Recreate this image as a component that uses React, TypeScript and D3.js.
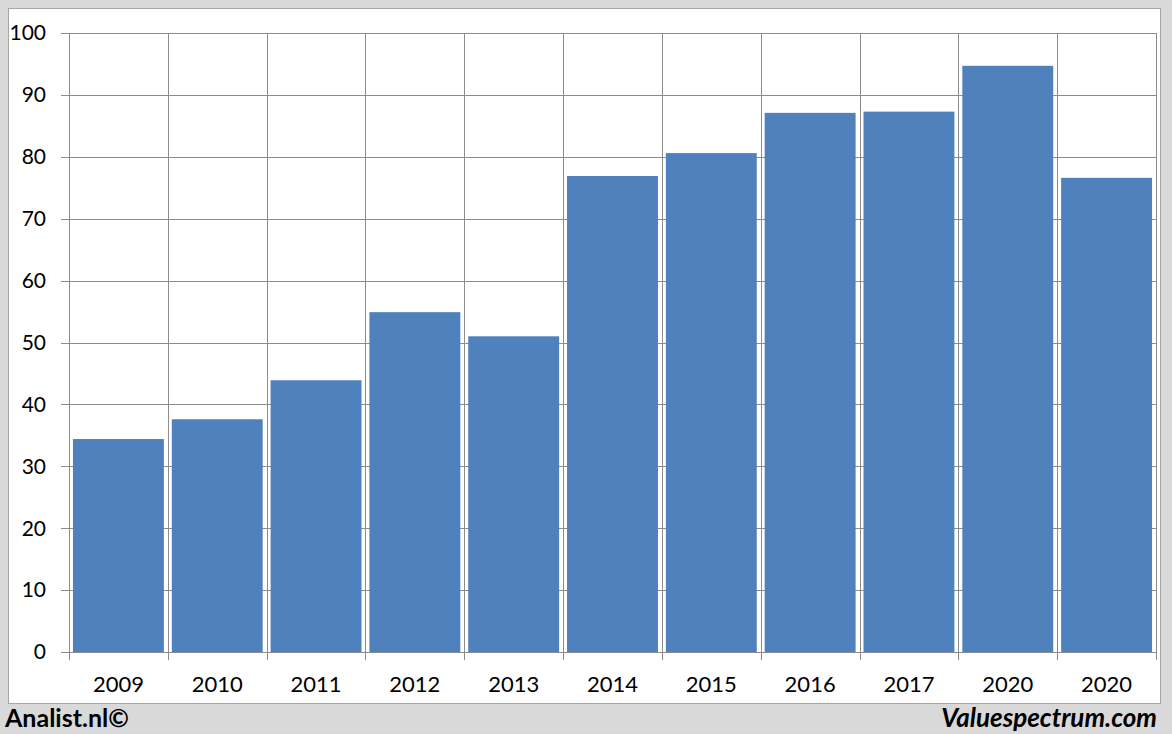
import React, { useEffect, useRef } from 'react';
import * as d3 from 'd3';

const years = ['2009', '2010', '2011', '2012', '2013', '2014', '2015', '2016', '2017', '2020', '2020'];
const values = [34.4, 37.6, 43.9, 54.9, 51.0, 76.9, 80.6, 87.1, 87.3, 94.7, 76.6];
const yTicks = [0, 10, 20, 30, 40, 50, 60, 70, 80, 90, 100];

const W = 1172;
const H = 734;
const margin = { left: 69, right: 16, top: 33, bottom: 82 };

function App() {
  const svgRef = useRef<SVGSVGElement | null>(null);

  useEffect(() => {
    document.body.style.margin = '0';
    const svg = d3.select(svgRef.current);
    svg.selectAll('*').remove();

    const x0 = margin.left;
    const x1 = W - margin.right;
    const y0 = H - margin.bottom;
    const y1 = margin.top;

    // index based band so the two "2020" columns stay separate
    const xScale = d3
      .scaleBand<number>()
      .domain(years.map((_, i) => i))
      .range([x0, x1])
      .paddingInner(0.08)
      .paddingOuter(0.04);
    const step = (x1 - x0) / years.length;
    const yScale = d3.scaleLinear().domain([0, 100]).range([y0, y1]);

    // background + panel
    svg.append('rect').attr('width', W).attr('height', H).attr('fill', '#d9d9d9');
    svg
      .append('rect')
      .attr('x', 8.5)
      .attr('y', 8.5)
      .attr('width', 1152)
      .attr('height', 695)
      .attr('fill', '#fff')
      .attr('stroke', '#a6a6a6');

    // horizontal grid
    svg
      .append('g')
      .selectAll('line')
      .data(yTicks)
      .join('line')
      .attr('x1', x0 - 8)
      .attr('x2', x1)
      .attr('y1', (d) => Math.round(yScale(d)) + 0.5)
      .attr('y2', (d) => Math.round(yScale(d)) + 0.5)
      .attr('stroke', '#8c8c8c')
      .attr('stroke-width', 1);

    // vertical grid at band boundaries
    const bounds = d3.range(years.length + 1).map((i) => x0 + i * step);
    svg
      .append('g')
      .selectAll('line')
      .data(bounds)
      .join('line')
      .attr('x1', (d) => Math.round(d) + 0.5)
      .attr('x2', (d) => Math.round(d) + 0.5)
      .attr('y1', y1)
      .attr('y2', y0 + 8)
      .attr('stroke', '#8c8c8c')
      .attr('stroke-width', 1);

    // bars
    svg
      .append('g')
      .selectAll('rect')
      .data(values)
      .join('rect')
      .attr('x', (_, i) => xScale(i) as number)
      .attr('y', (d) => yScale(d))
      .attr('width', xScale.bandwidth())
      .attr('height', (d) => y0 - yScale(d))
      .attr('fill', '#4f81bd');

    const font = 'Lato, "Noto Sans", sans-serif';

    // y labels
    svg
      .append('g')
      .selectAll('text')
      .data(yTicks)
      .join('text')
      .attr('x', 46)
      .attr('y', (d) => yScale(d))
      .attr('dy', '0.35em')
      .attr('text-anchor', 'end')
      .attr('font-family', font)
      .attr('font-size', 21)
      .attr('fill', '#000')
      .text((d) => d);

    // x labels
    svg
      .append('g')
      .selectAll('text')
      .data(years)
      .join('text')
      .attr('x', (_, i) => x0 + (i + 0.5) * step)
      .attr('y', 692)
      .attr('text-anchor', 'middle')
      .attr('font-family', font)
      .attr('font-size', 22)
      .attr('fill', '#000')
      .text((d) => d);

    svg
      .append('text')
      .attr('x', 5)
      .attr('y', 727)
      .attr('font-family', font)
      .attr('font-weight', 'bold')
      .attr('font-size', 25)
      .text('Analist.nl©');

    svg
      .append('text')
      .attr('x', 1157)
      .attr('y', 727)
      .attr('text-anchor', 'end')
      .attr('font-family', font)
      .attr('font-weight', 'bold')
      .attr('font-style', 'italic')
      .attr('font-size', 26)
      .text('Valuespectrum.com');
  }, []);

  return <svg ref={svgRef} width={W} height={H} style={{ display: 'block' }}></svg>;
}

export default App;
